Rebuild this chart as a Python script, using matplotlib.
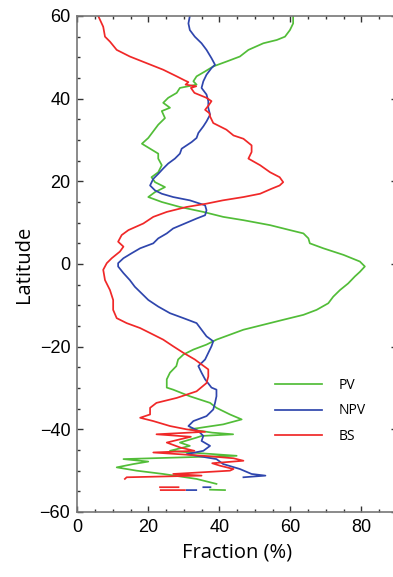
import numpy as np
import matplotlib
matplotlib.use("Agg")
import matplotlib.pyplot as plt
from matplotlib.ticker import MultipleLocator

nan = np.nan

# PV (green): latitude, fraction (%)
pv_lat = [60, 58.2, 56.6, 55, 54.2, 53.4, 51.8, 50.2, 49, 47.8, 46.6, 45.4, 44.2, 43.4,
          42.6, 41.4, 40.2, 39, 37.8, 37, 35.3, 33.7, 32.1, 30.5, 29.1, 27.9, 26.7, 25.5,
          23.9, 22.2, 21, 19.8, 18.6, 17.4, 16.2, 15, 13.8, 12.6, 11.4, 10.6, 9.4, 8.2,
          7.4, 6.2, 5, 3.8, 2.2, 0.6, -0.6, -1.9, -3, -4.7, -6.3, -7.9, -9.5, -11.1,
          -12.3, -13.5, -14.7, -15.9, -17.1, -18.3, -19.5, -20.7, -21.9, -23.1, -24.7,
          -26.3, -27.9, -29.9, -30.4, -32, -33.6, -34.8, -36.4, -37.6, -38.8, -40, -40.8,
          -41.2, -41.6, -42, -43.2, -44, -45.2, -45.8, -46.4, -47.2, -47.8, -48.4, -49.2,
          -50, -50.8, -52, -53.2, nan, -54.6, -54.7]
pv_val = [60.8, 60.8, 59.9, 58.5, 56.2, 52.4, 48.2, 45.8, 42.1, 38.3, 36, 33.6, 32.7, 33.6,
          28.9, 28, 25.6, 24.2, 26.1, 23.8, 24.7, 22.8, 21.4, 20, 18.2, 20.5, 22.8, 22.8,
          23.8, 22.8, 20.9, 21.9, 24.7, 21.9, 20, 23.8, 28.9, 35.5, 41.1, 46.8, 54.3, 59.9,
          63.7, 65.1, 65.5, 69.3, 75, 79.6, 81, 79.6, 78.2, 76.3, 74, 72.1, 70.7, 67.4,
          63.7, 58, 52.4, 46.8, 43, 39.2, 36.4, 32.7, 29.9, 28.4, 27.9,
          26.1, 25.2, 25.2, 27, 31.7, 37.4, 39.2, 43, 46.3, 41.1, 31.7, 38,
          43.9, 35, 33.6, 28.9, 31.7, 26.1, 35, 44.9, 13, 20, 15.8, 11.1,
          16.7, 24.2, 33.6, 39.2, nan, 37.4, 41.6]

# NPV (blue)
npv_lat = [60, 58.2, 56.6, 55, 53.4, 51.8, 49.8, 48.2, 47.4, 45.8, 44.2, 42.6, 41, 39.4,
           37.8, 36.1, 34.5, 33.3, 31.7, 30.5, 29.5, 27.9, 26.7, 25.5, 24.3, 23.1, 21.8,
           20.6, 19, 17.8, 17, 16.2, 15.4, 14.2, 13, 11.8, 11, 9.8, 8.6, 7.4, 6.2, 5, 3.8,
           2.6, 1.4, 0.2, -0.6, -2.2, -3.9, -5.5, -7.1, -8.7, -10.3, -11.9, -13.1, -14.3,
           -15.9, -17.5, -18.7, -19.9, -21.5, -23.1, -24.7, -26.3, -27.9, -29.9, -30.4,
           -32, -33.6, -35.2, -36.8, -38, -39.2, -40.4, -41.6, -42.8, -44, -45.2, -46,
           -47.2, -48.4, -49.6, -50.8, -51.2, -51.6, nan, -54.7, -54.7, nan, -54.0, -54.0]
npv_val = [31.7, 31.3, 31.7, 33.1, 35, 36.4, 37.8, 38.8, 37.8, 36.4, 35.5, 35, 36.4, 36.9,
           36.9, 37.4, 36.4, 35.5, 34.1, 33.6, 32.2, 29.4, 28.9, 27.5, 25.6, 24.2, 22.8,
           21.4, 20.5, 21.9, 23.8, 27, 31.7, 36, 36.4, 36, 33.6, 30.3, 27, 25.2, 22.8, 21.4, 17.7,
           15.3, 13, 11.5, 11.5, 13, 14.8, 16.2, 18.1, 20, 22.8, 26.1, 29.9, 33.6,
           35, 36.4, 38.3, 37.8, 36.9, 36, 34.1, 35, 36, 37.8, 39.2,
           39.2, 38.8, 38.3, 36.4, 32.7, 31.3, 34.1, 35.5, 35, 37.4, 35.5, 30.8,
           39.2, 41.1, 45.8, 49.1, 53, 46.8, nan, 30.8, 33.5, nan, 35.5, 37.5]

# BS (red)
bs_lat = [60, 57.4, 55, 53.8, 51.8, 50.2, 48.6, 47, 45.4, 44.4, 44, 43.4, 43, 42.6, 41.4,
          40.2, 39.4, 38.4, 37.3, 36.5, 35.7, 34.1, 32.5, 31.1, 30.3, 28.7, 27.1, 25.5,
          23.9, 22.2, 21, 19.8, 19, 18.2, 17, 16.2, 15.4, 14.6, 13.8, 12.6, 11.4, 9.8,
          8.2, 7, 5.4, 4.2, 3, 1.4, 0.2, -1.4, -3.9, -6.3, -8.7, -11.1, -13.1, -14.3,
          -15.5, -16.7, -18.3, -19.9, -21.5, -23.1, -24.3, -25.5, -27.2, -28.8, -30.8,
          -32.4, -33.6, -34.8, -36.4, -37.2, -38, -39.2, -40, -40.6, -41.2, -41.8, -42.4,
          -43.2, -44.4, -45.2, -45.6, -46.4, -47, -47.6, -48.2, -48.8, -49.6, -50, -50.8,
          -51.2, -51.6, -52, nan, -54.0, -54.0, nan, -54.7, -54.7]
bs_val = [5.9, 7.3, 7.8, 9.2, 11.1, 14.8, 19.5, 24.2, 28, 30.3, 31.3, 30.5, 33.5, 32, 33,
          36.4, 37.8, 37, 36, 37.2, 37.4, 38.3, 42, 44, 46.8, 49.1, 49.1, 48.2,
          51.5, 54.3, 57, 58, 57, 54.7, 51.5, 46.8, 41, 36.4, 30.8, 25.2, 21.4, 18.6,
          14.4, 12.5, 11.5, 13, 12, 9.7, 8.3, 7.3, 7.8, 9.2, 10.1, 10.1, 11.1, 13.9,
          17.7, 20.5, 24.2, 27, 29.9, 33.1, 35, 36.9, 36.9, 36.4, 33.6,
          28, 22.3, 20.5, 20.5, 17.7, 21.4, 26.1, 30.8, 36, 22.3, 32, 29,
          25.2, 29, 33, 21.4, 35.5, 44, 46.8, 38, 40.2, 44, 43, 27,
          35, 13.9, 13.4, nan, 23.3, 28.5, nan, 23.5, 30.3]

green = "#52bd38"
blue = "#2f46ad"
red = "#f02828"

fig = plt.figure(figsize=(3.93, 5.77), dpi=100)
# the right spine sits just outside the picture, as in the original crop
ax = fig.add_axes([77.3 / 393, 1 - 512 / 577, 319.5 / 393, 496 / 577])

ax.plot(pv_val, pv_lat, color=green, lw=1.25, label="PV")
ax.plot(npv_val, npv_lat, color=blue, lw=1.25, label="NPV")
ax.plot(bs_val, bs_lat, color=red, lw=1.25, label="BS")

ax.set_xlim(0, 90)
ax.set_ylim(-60, 60)
ax.xaxis.set_major_locator(MultipleLocator(20))
ax.xaxis.set_minor_locator(MultipleLocator(5))
ax.yaxis.set_major_locator(MultipleLocator(20))
ax.yaxis.set_minor_locator(MultipleLocator(5))

ax.tick_params(which="both", direction="in", top=True, right=True, color="#333333",
               labelsize=13, width=1.0)
ax.tick_params(which="major", length=4.5, pad=5)
ax.tick_params(which="minor", length=2.5)
ax.tick_params(axis="y", which="minor", right=False)
for lab in ax.get_xticklabels() + ax.get_yticklabels():
    lab.set_family("Liberation Sans")
for s in ax.spines.values():
    s.set_color("#777777")
    s.set_linewidth(1.2)

ax.set_xlabel("Fraction (%)", family="Open Sans", fontsize=14.5, labelpad=5)
ax.set_ylabel("Latitude", family="Open Sans", fontsize=14.5, labelpad=4)

ax.legend(loc="center left", bbox_to_anchor=(268 / 393, 1 - 411 / 577),
          bbox_transform=fig.transFigure, frameon=False, borderpad=0,
          handlelength=3.4, handletextpad=1.2, labelspacing=0.75,
          prop={"family": "Open Sans", "size": 10})

fig.savefig("out.png", dpi=100)
